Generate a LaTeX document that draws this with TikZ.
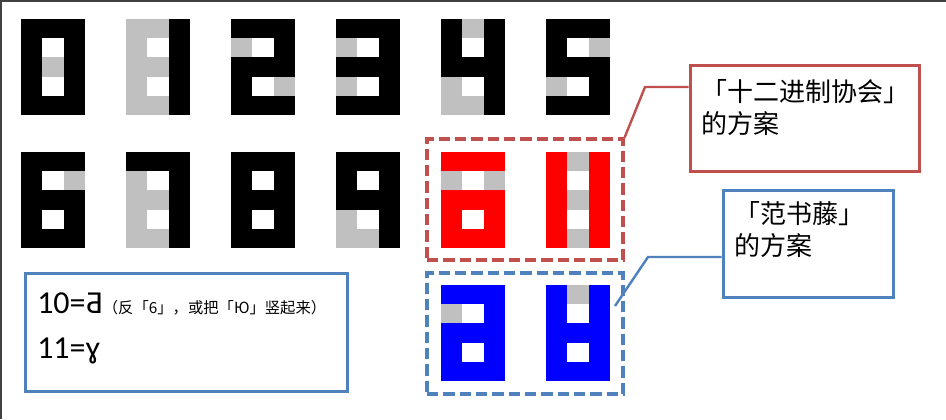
\documentclass[tikz,border=0pt]{standalone}
\usepackage{fontspec}
\usepackage{xcolor}
\newfontfamily\cjk{Noto Sans CJK SC}
\newfontfamily\carlito{Carlito}
\definecolor{G}{HTML}{C0C0C0}
\colorlet{W}{white}
\definecolor{notered}{HTML}{C0504D}
\definecolor{noteblue}{HTML}{4F81BD}

\begin{document}
\begin{tikzpicture}[x=0.75pt, y=-0.75pt,
        notebox/.style={draw, line width=2.25pt, inner sep=0pt},
        notetext/.style={inner sep=0pt, anchor=north west, align=left,
            font=\cjk\fontsize{19.5}{24}\selectfont},
        groupbox/.style={draw, line width=2.5pt, dash pattern=on 8.5pt off 3.75pt,
            minimum width=147pt, minimum height=90.75pt, inner sep=0pt},
        callout/.style={line width=1.8pt}]
    \useasboundingbox (0,0) rectangle (946,419);
    \draw [black!75, line width=2.5pt] (0,419) -- (0,0) -- (946,0);

    \newcommand{\drawdigit}[4]{
        \begin{scope}[shift={(#1,#2)}]
            \colorlet{F}{#3}
            \foreach \a/\b/\c [count=\r from 0] in {#4} {
                \fill [\a] (0,\r*19.2) rectangle ++(21.4,19.3);
                \fill [\b] (21.33,\r*19.2) rectangle ++(21.4,19.3);
                \fill [\c] (42.67,\r*19.2) rectangle ++(21.33,19.3);
            }
        \end{scope}
    }
    % 0 ... 5
    \drawdigit{21}{19}{black}{F/F/F, F/W/F, F/G/F, F/W/F, F/F/F}
    \drawdigit{126}{19}{black}{G/G/F, G/W/F, G/G/F, G/W/F, G/G/F}
    \drawdigit{231}{19}{black}{F/F/F, G/W/F, F/F/F, F/W/G, F/F/F}
    \drawdigit{336}{19}{black}{F/F/F, G/W/F, F/F/F, G/W/F, F/F/F}
    \drawdigit{441}{19}{black}{F/G/F, F/W/F, F/F/F, G/W/F, G/G/F}
    \drawdigit{546}{19}{black}{F/F/F, F/W/G, F/F/F, G/W/F, F/F/F}
    % 6 ... 9
    \drawdigit{21}{152}{black}{F/F/F, F/W/G, F/F/F, F/W/F, F/F/F}
    \drawdigit{126}{152}{black}{F/F/F, G/W/F, G/G/F, G/W/F, G/G/F}
    \drawdigit{231}{152}{black}{F/F/F, F/W/F, F/F/F, F/W/F, F/F/F}
    \drawdigit{336}{152}{black}{F/F/F, F/W/F, F/F/F, G/W/F, G/G/F}
    % 10 and 11
    \drawdigit{441}{152}{red}{F/F/F, G/W/G, F/F/F, F/W/F, F/F/F}
    \drawdigit{546}{152}{red}{F/G/F, F/W/F, F/G/F, F/W/F, F/G/F}
    \drawdigit{441}{285}{blue}{F/F/F, G/W/F, F/F/F, F/W/F, F/F/F}
    \drawdigit{546}{285}{blue}{F/G/F, F/W/F, F/F/F, F/W/F, F/F/F}

    \node [groupbox, notered] (redgroup) at (525,199.5) {};
    \node [groupbox, noteblue] (bluegroup) at (525,333.5) {};

    % callouts
    \node [notebox, notered, minimum width=171.75pt, minimum height=79.5pt] (rednote) at (804.5,118) {};
    \node [notetext] (redtext) at (701,79) {「十二进制协会」\\的方案};
    \coordinate (redbend) at (645,87);
    \draw [callout, notered] (rednote.west |- redbend) -- (redbend) -- (redgroup.north east);

    \node [notebox, noteblue, minimum width=127.5pt, minimum height=80.25pt] (bluenote) at (808,243.5) {};
    \node [notetext] (bluetext) at (734,201) {「范书藤」\\的方案};
    \coordinate (bluebend) at (648,257);
    \coordinate (bluetip) at (615,306);
    \draw [callout, noteblue] (bluenote.west |- bluebend) -- (bluebend) -- (bluetip);

    % legend
    \node [notebox, noteblue, minimum width=241.5pt, minimum height=88.5pt] (legend) at (186,332) {};
    \node [inner sep=0pt, anchor=base west] (tenline) at (37,313)
        {{\carlito\fontsize{24}{28}\selectfont 10=Ƌ}{\cjk\fontsize{11.5}{14}\selectfont （反「6」，或把「Ю」竖起来）}};
    \node [inner sep=0pt, anchor=base west] (elevenline) at (37,358)
        {\carlito\fontsize{24}{28}\selectfont 11=ɣ};
\end{tikzpicture}
\end{document}
